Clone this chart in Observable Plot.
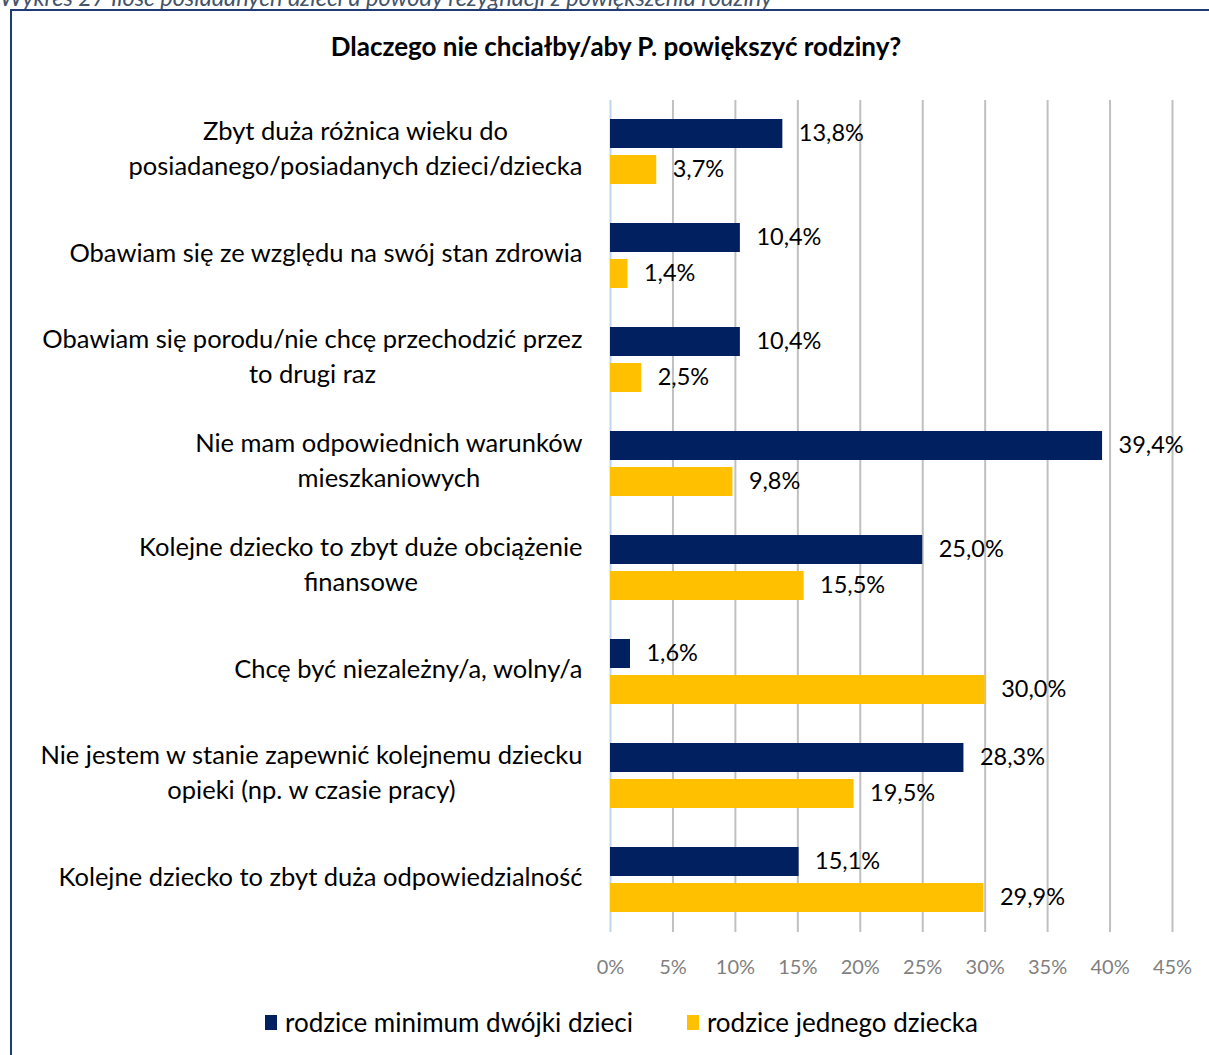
<!DOCTYPE html>
<html>
<head>
<meta charset="utf-8">
<script src="https://cdn.jsdelivr.net/npm/d3@7"></script>
<script src="https://cdn.jsdelivr.net/npm/@observablehq/plot@0.6"></script>
<style>
  html, body { margin: 0; padding: 0; background: #fff; width: 1209px; height: 1055px; overflow: hidden; }
  body { position: relative; font-family: Lato, "Open Sans", sans-serif; }
  #caption { position: absolute; left: 0; top: -14px; font-size: 23.5px; line-height: 23px; font-style: italic; color: #44546a; white-space: nowrap; }
  #frame { position: absolute; left: 10px; top: 9px; width: 1300px; height: 1200px; border-left: 2px solid #1f3a78; border-top: 2px solid #1f3a78; }
  #title { position: absolute; left: 10px; width: 1212px; top: 31px; line-height: 30px; text-align: center; font-weight: bold; font-size: 26px; color: #000; }
  #chart { position: absolute; left: 0; top: 80px; }
  #legend { position: absolute; top: 1005px; left: 0; width: 1209px; display: flex; justify-content: center; gap: 54px; font-size: 26px; line-height: 34px; color: #000; padding-left: 34px; box-sizing: border-box; }
  .item { display: flex; align-items: center; gap: 8px; }
  .sw { width: 12px; height: 15px; display: inline-block; }
</style>
</head>
<body>
<div id="caption">Wykres 27 Ilość posiadanych dzieci a powody rezygnacji z powiększenia rodziny</div>
<div id="frame"></div>
<div id="title">Dlaczego nie chciałby/aby P. powiększyć rodziny?</div>
<div id="chart"></div>
<div id="legend"></div>
<script>
const categories = [
  "Zbyt duża różnica wieku do\nposiadanego/posiadanych dzieci/dziecka",
  "Obawiam się ze względu na swój stan zdrowia",
  "Obawiam się porodu/nie chcę przechodzić przez\nto drugi raz",
  "Nie mam odpowiednich warunków\nmieszkaniowych",
  "Kolejne dziecko to zbyt duże obciążenie\nfinansowe",
  "Chcę być niezależny/a, wolny/a",
  "Nie jestem w stanie zapewnić kolejnemu dziecku\nopieki (np. w czasie pracy)",
  "Kolejne dziecko to zbyt duża odpowiedzialność"
];
const series = ["rodzice minimum dwójki dzieci", "rodzice jednego dziecka"];
const valuesMinTwo = [13.8, 10.4, 10.4, 39.4, 25.0, 1.6, 28.3, 15.1];
const valuesOne = [3.7, 1.4, 2.5, 9.8, 15.5, 30.0, 19.5, 29.9];
const xTicks = [0, 5, 10, 15, 20, 25, 30, 35, 40, 45];
const colors = ["#002060", "#ffc000"];

const data = [];
categories.forEach((c, i) => {
  data.push({cat: c, series: series[0], value: valuesMinTwo[i]});
  data.push({cat: c, series: series[1], value: valuesOne[i]});
});
const fmt = d => d.value.toFixed(1).replace(".", ",") + "%";

const chart = Plot.plot({
  width: 1209,
  height: 910,
  marginLeft: 610,
  marginRight: 37,
  marginTop: 17,
  marginBottom: 55,
  style: {fontFamily: "Lato, 'Open Sans', sans-serif", background: "transparent"},
  x: {domain: [0, 45], axis: null, label: null},
  fy: {domain: categories, padding: 0, axis: null, label: null},
  y: {domain: series, paddingInner: 0.19, paddingOuter: 0.51, axis: null, label: null},
  color: {domain: series, range: colors},
  marks: [
    Plot.ruleX(xTicks.filter(t => t > 0), {stroke: "#c0c0c0", strokeWidth: 2}),
    Plot.ruleX([0], {stroke: "#bdd7ee", strokeWidth: 2}),
    Plot.barX(data, {fy: "cat", y: "series", x: "value", fill: "series"}),
    Plot.text(data, {fy: "cat", y: "series", x: "value", text: fmt, textAnchor: "start", dx: 16, dy: -1, fontSize: 23.5, fill: "#000"}),
    Plot.text(categories, {fy: d => d, text: d => d, frameAnchor: "left", textAnchor: "end", dx: -28, dy: -6, lineHeight: 1.36, fontSize: 25.5, fill: "#000"}),
    Plot.axisX({ticks: xTicks, tickFormat: d => d + "%", tickSize: 0, tickPadding: 27, fontSize: 20, fill: "#7f7f7f", label: null})
  ]
});
document.getElementById("chart").appendChild(chart);

// center multi-line category labels as blocks right-aligned to the axis
const catSet = new Set(categories.map(c => c.replace(/\n/g, "")));
chart.querySelectorAll("text").forEach(t => {
  if (!catSet.has(t.textContent)) return;
  const spans = t.querySelectorAll("tspan");
  let w = 0;
  if (spans.length) spans.forEach(s => { w = Math.max(w, s.getComputedTextLength()); });
  else w = t.getComputedTextLength();
  t.setAttribute("text-anchor", "middle");
  t.style.textAnchor = "middle";
  const tr = t.getAttribute("transform") || "";
  t.setAttribute("transform", tr + ` translate(${-w / 2},0)`);
});

const legend = document.getElementById("legend");
series.forEach((s, i) => {
  const it = document.createElement("div");
  it.className = "item";
  const sw = document.createElement("span");
  sw.className = "sw";
  sw.style.background = colors[i];
  const lab = document.createElement("span");
  lab.textContent = s;
  it.appendChild(sw); it.appendChild(lab);
  legend.appendChild(it);
});
</script>
</body>
</html>
